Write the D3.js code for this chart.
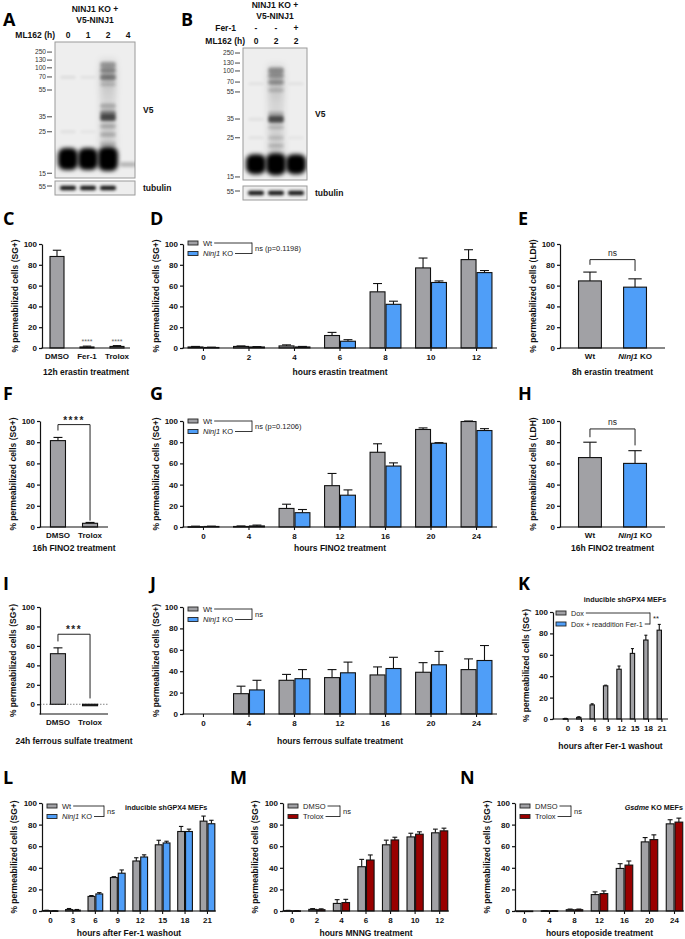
<!DOCTYPE html>
<html><head><meta charset="utf-8">
<script src="https://cdn.jsdelivr.net/npm/d3@7"></script>
<style>
body{margin:0;background:#fff}
svg{display:block}
</style></head><body>
<svg id="fig" width="685" height="939"></svg>
<script>
// ---------------- DATA ----------------
// Blot A
const A_lanes = ["0","1","2","4"];
const A_mw = [250,130,100,70,55,35,25,15];
const A_mwRf = [0.074,0.133,0.19,0.257,0.353,0.55,0.66,0.965];
// [lane index, relative migration, intensity, band height]
const A_bands = [[0,0.86,1,22],[1,0.86,1,22],[2,0.86,1,24],[3,0.9,0.22,5],
 [2,0.17,0.3,6],[2,0.21,0.35,5],[2,0.26,0.4,6],[2,0.31,0.15,4],[2,0.47,0.22,5],
 [2,0.52,0.4,5],[2,0.555,0.65,7],[2,0.62,0.2,5],[2,0.68,0.18,5],[2,0.75,0.15,5],
 [0,0.26,0.07,3],[1,0.26,0.05,3],[0,0.66,0.06,3],[1,0.66,0.04,3]];
const A_tubulin = [1,1,1,0];
// Blot B
const B_fer = ["-","-","+"];
const B_ml162 = ["0","2","2"];
const B_mw = [250,130,100,70,55,35,25,15];
const B_mwRf = [0.038,0.114,0.174,0.258,0.333,0.538,0.68,0.977];
const B_bands = [[0,0.88,1,20],[1,0.88,1,22],[2,0.88,1,20],
 [1,0.17,0.35,6],[1,0.21,0.3,5],[1,0.26,0.3,5],[1,0.32,0.15,4],[1,0.5,0.2,5],
 [1,0.54,0.65,7],[1,0.6,0.15,4],[1,0.68,0.12,4],[1,0.74,0.15,4],
 [0,0.27,0.05,3],[2,0.27,0.05,3],[0,0.54,0.06,3],[0,0.68,0.05,3],[2,0.68,0.04,3]];
const B_tubulin = [1,1,1];

// C
const C_cats = ["DMSO","Fer-1","Trolox"];
const C_vals = [88,1,1.5];
const C_err  = [6,0.8,0.8];
// D
const D_hours = ["0","2","4","6","8","10","12"];
const D_wt = [1,1.5,2,12,54,77,85];
const D_wt_err = [0.5,0.5,1,3,8,9.5,9.5];
const D_ko = [0.5,1,1,6.5,42,63,72.5];
const D_ko_err = [0.3,0.4,0.5,1.5,3,1.5,2];
// E
const E_cats = ["Wt","Ninj1 KO"];
const E_vals = [64.5,58.5];
const E_err = [8.5,8];
// F
const F_cats = ["DMSO","Trolox"];
const F_vals = [81.5,3.5];
const F_err = [3,0.8];
// G
const G_hours = ["0","4","8","12","16","20","24"];
const G_wt = [0.3,0.5,17.5,39,70.5,92,99.5];
const G_wt_err = [0.5,0.5,4,11.5,8,1.5,0.5];
const G_ko = [0.5,1,13.5,30,57.5,79,91];
const G_ko_err = [0.3,0.8,3,5,3,0.6,1.8];
// H
const H_cats = ["Wt","Ninj1 KO"];
const H_vals = [65.5,60];
const H_err = [14.5,12];
// I
const I_cats = ["DMSO","Trolox"];
const I_vals = [52,-1.5];
const I_err = [6,0];
// J
const J_hours = ["0","4","8","12","16","20","24"];
const J_wt = [null,19,31.5,34,36.5,39,41.5];
const J_wt_err = [0,7,5.5,7.5,7.5,9,10];
const J_ko = [null,22.5,33,38.5,42.5,46,50];
const J_ko_err = [0,9,8.5,10,10.5,12.5,14];
// K
const K_hours = ["0","3","6","9","12","15","18","21"];
const K_dox = [0.3,1.5,13.2,31,46.5,61.3,73.8,83];
const K_dox_err = [0.3,0.6,1,0.6,3,4.5,4.5,5.4];
const K_fer = [null,null,null,null,null,null,null,null];
// L
const L_hours = ["0","3","6","9","12","15","18","21"];
const L_wt = [0.4,1.3,13.5,31,46.3,61.3,73.6,83.2];
const L_wt_err = [0.3,1,0.8,0.8,3,4.2,4.7,4.7];
const L_ko = [0.2,0.8,15.8,35,50,63,73.6,80.8];
const L_ko_err = [0.2,0.6,1.2,3,2,1.6,2.2,3.2];
// M
const M_hours = ["0","2","4","6","8","10","12"];
const M_dmso = [0.3,1.5,7,41,61.3,68.6,72.4];
const M_dmso_err = [0.3,0.7,3.5,6.8,4.3,3.4,3.4];
const M_tro = [0.2,1.2,7.8,47.2,65.8,71.1,74.2];
const M_tro_err = [0.2,0.8,3,4.7,2.5,2.2,2.5];
// N
const N_hours = ["0","4","8","12","16","20","24"];
const N_dmso = [0,0.2,1.2,15.2,39.4,64,80.7];
const N_dmso_err = [0,0.2,0.6,2.5,4.4,4,3.8];
const N_tro = [0,0.2,1.2,16.1,42.5,66.1,82.3];
const N_tro_err = [0,0.2,0.6,2.5,3.8,4.4,3.7];

const yTicks = [0,20,40,60,80,100];

// ---------------- STYLE ----------------
const FONT = "Liberation Sans, Arial, sans-serif";
const GRAY = "#a1a1a5", BLUE = "#4f9ef8", RED = "#990000";
const svg = d3.select("#fig");

const defs = svg.append("defs");
[["blur1",1.4],["blur2",1.9],["blur3",3.2]].forEach(([id, s]) => {
  defs.append("filter").attr("id", id).attr("x","-60%").attr("y","-60%").attr("width","220%").attr("height","220%")
    .append("feGaussianBlur").attr("stdDeviation", s);
});
const sg = defs.append("linearGradient").attr("id","smear").attr("x1",0).attr("x2",0).attr("y1",0).attr("y2",1);
sg.append("stop").attr("offset","0%").attr("stop-color","#000").attr("stop-opacity",0.05);
sg.append("stop").attr("offset","15%").attr("stop-color","#000").attr("stop-opacity",0.2);
sg.append("stop").attr("offset","45%").attr("stop-color","#000").attr("stop-opacity",0.1);
sg.append("stop").attr("offset","100%").attr("stop-color","#000").attr("stop-opacity",0.14);

function txt(g, x, y, s, o = {}) {
  return g.append("text").attr("x", x).attr("y", y).text(s)
    .attr("font-family", o.family || FONT)
    .attr("font-size", o.size || 8)
    .attr("font-weight", o.weight || "bold")
    .attr("fill", o.fill || "#111")
    .attr("text-anchor", o.anchor || "start");
}
function panelLabel(x, y, s) {
  txt(svg, x, y, s, {family: "Open Sans, Liberation Sans, sans-serif", size: 18, weight: 700, fill: "#000"});
}

// ---------------- BLOTS ----------------
function drawBlot(cfg) {
  const g = svg.append("g");
  const lane = d3.scaleBand().domain(d3.range(cfg.nLanes)).range(cfg.laneRange);
  const rf = d3.scaleLinear().domain([0,1]).range([cfg.y, cfg.y + cfg.h]);
  g.append("rect").attr("x", cfg.x).attr("y", cfg.y).attr("width", cfg.w).attr("height", cfg.h)
    .attr("fill", "#eeeeee").attr("stroke", "#9a9a9a").attr("stroke-width", 1);
  const clipId = "clip" + cfg.id;
  defs.append("clipPath").attr("id", clipId).append("rect")
    .attr("x", cfg.x).attr("y", cfg.y).attr("width", cfg.w).attr("height", cfg.h);
  const bg = g.append("g").attr("clip-path", `url(#${clipId})`);
  if (cfg.smearLane != null) {
    bg.append("rect").attr("x", lane(cfg.smearLane) + lane.bandwidth()*0.1).attr("width", lane.bandwidth()*0.8)
      .attr("y", rf(0.12)).attr("height", rf(0.84) - rf(0.12))
      .attr("fill", "url(#smear)").attr("filter", "url(#blur3)");
  }
  cfg.bands.forEach(([li, r, inten, hh]) => {
    const big = hh > 10;
    const w = lane.bandwidth() * (big ? 1.0 : 0.78);
    bg.append("rect").attr("x", lane(li) + (lane.bandwidth() - w)/2).attr("width", w)
      .attr("y", rf(r) - hh/2).attr("height", hh).attr("rx", big ? 7 : 2)
      .attr("fill", "#000").attr("opacity", inten)
      .attr("filter", big ? "url(#blur2)" : "url(#blur1)");
  });
  cfg.mw.forEach((m, i) => {
    const yy = rf(cfg.mwRf[i]);
    txt(g, cfg.x - 9, yy + 2.4, String(m), {anchor: "end", weight: "normal", size: 6.6, fill: "#333"});
    g.append("line").attr("x1", cfg.x - 8).attr("x2", cfg.x - 3).attr("y1", yy).attr("y2", yy)
      .attr("stroke", "#333").attr("stroke-width", 0.9);
  });
  g.append("rect").attr("x", cfg.x).attr("y", cfg.ty).attr("width", cfg.w).attr("height", cfg.th)
    .attr("fill", "#eeeeee").attr("stroke", "#9a9a9a").attr("stroke-width", 1);
  cfg.tub.forEach((v, i) => {
    if (!v) return;
    g.append("rect").attr("x", lane(i) + lane.bandwidth()*0.1).attr("width", lane.bandwidth()*0.8)
      .attr("y", cfg.ty + cfg.th/2 - 2.3).attr("height", 4.6).attr("rx", 2)
      .attr("fill", "#000").attr("opacity", 0.9).attr("filter", "url(#blur1)");
  });
  const ty = cfg.ty + cfg.th/2;
  txt(g, cfg.x - 9, ty + 0.5, "55", {anchor: "end", weight: "normal", size: 6.6, fill: "#333"});
  g.append("line").attr("x1", cfg.x - 8).attr("x2", cfg.x - 3).attr("y1", ty - 2).attr("y2", ty - 2)
    .attr("stroke", "#333").attr("stroke-width", 0.9);
  txt(g, cfg.x + cfg.w + 8, rf(0.5) + 3, "V5", {size: 8.5});
  txt(g, cfg.x + cfg.w + 8, ty + 3, "tubulin", {size: 8.5});
  return lane;
}

panelLabel(3, 26, "A");
const laneA = drawBlot({id:"A", x:55, y:42, w:80, h:136, nLanes:4, laneRange:[58,138],
  mw:A_mw, mwRf:A_mwRf, bands:A_bands, smearLane:2, ty:181, th:14, tub:A_tubulin});
txt(svg, 95, 12, "NINJ1 KO +", {anchor:"middle", size:8.5});
txt(svg, 95, 23, "V5-NINJ1", {anchor:"middle", size:8.5});
txt(svg, 55, 38, "ML162 (h)", {anchor:"end", size:8.5});
A_lanes.forEach((l, i) => txt(svg, laneA(i) + laneA.bandwidth()/2, 38, l, {anchor:"middle", size:8.5}));

panelLabel(181, 26, "B");
const laneB = drawBlot({id:"B", x:243, y:48, w:64, h:132, nLanes:3, laneRange:[246,306],
  mw:B_mw, mwRf:B_mwRf, bands:B_bands, smearLane:1, ty:186, th:14, tub:B_tubulin});
txt(svg, 275, 8, "NINJ1 KO +", {anchor:"middle", size:8.5});
txt(svg, 275, 19, "V5-NINJ1", {anchor:"middle", size:8.5});
txt(svg, 236, 31, "Fer-1", {anchor:"end", size:8.5});
txt(svg, 245, 44, "ML162 (h)", {anchor:"end", size:8.5});
B_fer.forEach((l, i) => txt(svg, laneB(i) + laneB.bandwidth()/2, 31, l, {anchor:"middle", size:8.5}));
B_ml162.forEach((l, i) => txt(svg, laneB(i) + laneB.bandwidth()/2, 44, l, {anchor:"middle", size:8.5}));

// ---------------- BAR PANELS ----------------
function drawBars(o) {
  const g = svg.append("g");
  const dom = o.yDomain || [0,100];
  const y = d3.scaleLinear().domain(dom).range([o.yBot, o.yTop]);
  const x = d3.scaleBand().domain(o.cats).range(o.band).paddingInner(o.pi).paddingOuter(o.po);
  const xs = d3.scaleBand().domain(d3.range(o.series.length)).range([0, x.bandwidth()]);
  const bw = xs.bandwidth();
  if (o.zeroLine) {
    g.append("line").attr("x1", o.x0).attr("x2", o.x1).attr("y1", y(0)).attr("y2", y(0))
      .attr("stroke", "#777").attr("stroke-width", 0.9).attr("stroke-dasharray", "1.5,1.5");
  }
  o.series.forEach((s, si) => {
    o.cats.forEach((c, i) => {
      const v = s.vals[i];
      if (v == null) return;
      const bx = x(c) + xs(si);
      const yv = y(v), y0 = y(0);
      const e = s.errs ? s.errs[i] : 0;
      const cx = bx + bw/2;
      if (e > 0 && v >= 0) {
        const ye = y(v + e);
        g.append("line").attr("x1", cx).attr("x2", cx).attr("y1", yv).attr("y2", ye)
          .attr("stroke", "#111").attr("stroke-width", 1.1);
        g.append("line").attr("x1", cx - bw*0.28).attr("x2", cx + bw*0.28).attr("y1", ye).attr("y2", ye)
          .attr("stroke", "#111").attr("stroke-width", 1.1);
      }
      const col = Array.isArray(s.color) ? s.color[i] : s.color;
      g.append("rect").attr("x", bx + 0.5).attr("y", Math.min(yv, y0))
        .attr("width", bw - 1).attr("height", Math.max(Math.abs(y0 - yv), 0.6))
        .attr("fill", v < 0 ? "#111" : col).attr("stroke", "#111").attr("stroke-width", 1.1);
    });
  });
  const ya = g.append("g").attr("transform", `translate(${o.x0},0)`)
    .call(d3.axisLeft(y).tickValues(yTicks).tickSize(3).tickSizeOuter(0).tickPadding(2));
  ya.attr("font-family", FONT).attr("font-size", 8).attr("font-weight", "bold");
  ya.selectAll("path, line").attr("stroke", "#111").attr("stroke-width", 1.2);
  ya.selectAll("text").attr("fill", "#111");
  const xa = g.append("g").attr("transform", `translate(0,${o.yBot})`)
    .call(d3.axisBottom(x).tickSize(o.xTick).tickSizeOuter(0).tickPadding(o.xTick ? 3 : 5));
  xa.select(".domain").remove();
  xa.attr("font-family", FONT).attr("font-size", 8).attr("font-weight", "bold");
  xa.selectAll("line").attr("stroke", "#111").attr("stroke-width", 1.1);
  xa.selectAll("text").attr("fill", "#111").each(function(d) {
    if (d === "Ninj1 KO") {
      const t = d3.select(this); t.text(null);
      t.append("tspan").attr("font-style", "italic").text("Ninj1");
      t.append("tspan").text(" KO");
    }
  });
  g.append("line").attr("x1", o.x0 - 0.6).attr("x2", o.x1).attr("y1", o.yBot).attr("y2", o.yBot)
    .attr("stroke", "#111").attr("stroke-width", 1.2);
  txt(g, (o.x0 + o.x1)/2 + (o.xTitleDx || 0), o.xTitleY, o.xTitle, {anchor: "middle", size: 8.5});
  txt(g, 0, 0, o.yTitle, {anchor: "middle", size: 8.5})
    .attr("transform", `translate(${o.x0 - (o.yTitleOff || 24)},${(o.yTop + o.yBot)/2}) rotate(-90)`);
  return {x, y, xs, g};
}

function legend(p, items, o) {
  const g = p.g;
  const widths = [];
  items.forEach((it, i) => {
    const yy = o.y + i * o.dy;
    g.append("rect").attr("x", o.x).attr("y", yy - 2).attr("width", 10).attr("height", 4)
      .attr("fill", it.color).attr("stroke", "#222").attr("stroke-width", 0.9);
    const t = g.append("text").attr("x", o.x + 15).attr("y", yy + 2.6)
      .attr("font-family", FONT).attr("font-size", o.size || 7.5).attr("fill", "#222");
    if (it.italic) { t.append("tspan").attr("font-style", "italic").text(it.italic); t.append("tspan").text(it.rest); }
    else t.text(it.label);
    widths.push(o.x + 15 + t.node().getComputedTextLength());
  });
  const bx = o.bracketX || (d3.max(widths) + 4);
  items.forEach((it, i) => {
    const yy = o.y + i * o.dy;
    g.append("line").attr("x1", widths[i] + 2).attr("x2", bx).attr("y1", yy).attr("y2", yy)
      .attr("stroke", "#222").attr("stroke-width", 0.9);
  });
  g.append("line").attr("x1", bx).attr("x2", bx).attr("y1", o.y - 0.45).attr("y2", o.y + o.dy*(items.length-1) + 0.45)
    .attr("stroke", "#222").attr("stroke-width", 0.9);
  g.append("text").attr("x", bx + 3).attr("y", o.y + o.dy*(items.length-1)/2 + 2.6)
    .attr("font-family", FONT).attr("font-size", 7.5).attr("fill", "#222").text(o.sig);
  return bx;
}

function bracket(p, c1, c2, top, l1, l2, label, o = {}) {
  const {x, y, g} = p;
  const x1 = x(c1) + x.bandwidth()/2, x2 = x(c2) + x.bandwidth()/2;
  g.append("path").attr("d", `M${x1},${y(l1)}V${y(top)}H${x2}V${y(l2)}`)
    .attr("fill", "none").attr("stroke", "#222").attr("stroke-width", 1);
  g.append("text").attr("x", (x1 + x2)/2).attr("y", y(top) - (o.gap || 4))
    .attr("text-anchor", "middle").attr("font-family", FONT).attr("font-size", o.size || 8)
    .attr("font-weight", o.weight || "normal").attr("letter-spacing", o.ls || 0).attr("fill", "#222").text(label);
}

const wtKo = [{label:"Wt", color:GRAY}, {italic:"Ninj1", rest:" KO", color:BLUE}];

// Row 2
panelLabel(3, 225, "C");
const pC = drawBars({x0:42, x1:130, yTop:244, yBot:348, cats:C_cats, band:[42,132], pi:0.5, po:0.25,
  series:[{vals:C_vals, errs:C_err, color:GRAY}], xTick:0,
  xTitle:"12h erastin treatment", xTitleY:375, yTitle:"% permeabilized cells (SG+)"});
["Fer-1","Trolox"].forEach(c => {
  pC.g.append("text").attr("x", pC.x(c) + pC.x.bandwidth()/2).attr("y", pC.y(3.5))
    .attr("text-anchor","middle").attr("font-family",FONT).attr("font-size",7).attr("fill","#666").text("****");
});

panelLabel(150, 225, "D");
const pD = drawBars({x0:183, x1:497, yTop:244, yBot:348, cats:D_hours, band:[183,497], pi:0.3, po:0.1,
  series:[{vals:D_wt, errs:D_wt_err, color:GRAY},{vals:D_ko, errs:D_ko_err, color:BLUE}], xTick:3,
  xTitle:"hours erastin treatment", xTitleY:375, yTitle:"% permeabilized cells (SG+)"});
legend(pD, wtKo, {x:188, y:243, dy:10.5, sig:"ns (p=0.1198)", bracketX:252});

panelLabel(518, 225, "E");
const pE = drawBars({x0:560, x1:665, yTop:244, yBot:348, cats:E_cats, band:[560,665], pi:0.47, po:0.4,
  series:[{vals:E_vals, errs:E_err, color:[GRAY,BLUE]}], xTick:0,
  xTitle:"8h erastin treatment", xTitleY:375, yTitle:"% permeabilized cells (LDH)"});
bracket(pE, "Wt", "Ninj1 KO", 85, 80, 74, "ns", {size:8.5});

// Row 3
panelLabel(3, 400, "F");
const pF = drawBars({x0:40, x1:108, yTop:421, yBot:527, cats:F_cats, band:[40,108], pi:0.5, po:0.31,
  series:[{vals:F_vals, errs:F_err, color:GRAY}], xTick:0,
  xTitle:"16h FINO2 treatment", xTitleY:551, yTitle:"% permeabilized cells (SG+)"});
bracket(pF, "DMSO", "Trolox", 96.6, 91, 6, "****", {size:10, weight:"bold", ls:1.5, gap:1});

panelLabel(150, 400, "G");
const pG = drawBars({x0:183, x1:497, yTop:421, yBot:527, cats:G_hours, band:[183,497], pi:0.3, po:0.1,
  series:[{vals:G_wt, errs:G_wt_err, color:GRAY},{vals:G_ko, errs:G_ko_err, color:BLUE}], xTick:3,
  xTitle:"hours FINO2 treatment", xTitleY:551, yTitle:"% permeabilized cells (SG+)"});
legend(pG, wtKo, {x:188, y:421, dy:10.5, sig:"ns (p=0.1206)", bracketX:252});

panelLabel(518, 400, "H");
const pH = drawBars({x0:560, x1:665, yTop:421, yBot:527, cats:H_cats, band:[560,665], pi:0.47, po:0.4,
  series:[{vals:H_vals, errs:H_err, color:[GRAY,BLUE]}], xTick:0,
  xTitle:"16h FINO2 treatment", xTitleY:551, yTitle:"% permeabilized cells (LDH)"});
bracket(pH, "Wt", "Ninj1 KO", 92.5, 84.7, 77, "ns", {size:8.5});

// Row 4
panelLabel(3, 590, "I");
const pI = drawBars({x0:40, x1:108, yTop:607, yBot:714, yDomain:[-10,100], cats:I_cats, band:[40,108], pi:0.5, po:0.31,
  series:[{vals:I_vals, errs:I_err, color:GRAY}], xTick:0, zeroLine:true,
  xTitle:"24h ferrous sulfate treatment", xTitleY:744, yTitle:"% permeabilized cells (SG+)"});
bracket(pI, "DMSO", "Trolox", 72, 64.6, 6, "***", {size:10, weight:"bold", ls:1.5, gap:1});

panelLabel(150, 590, "J");
const pJ = drawBars({x0:183, x1:497, yTop:607, yBot:714, cats:J_hours, band:[183,497], pi:0.3, po:0.1,
  series:[{vals:J_wt, errs:J_wt_err, color:GRAY},{vals:J_ko, errs:J_ko_err, color:BLUE}], xTick:3,
  xTitle:"hours ferrous sulfate treatment", xTitleY:744, yTitle:"% permeabilized cells (SG+)"});
legend(pJ, wtKo, {x:188, y:609, dy:10.5, sig:"ns", bracketX:252});

panelLabel(518, 590, "K");
const pK = drawBars({x0:553, x1:668, yTop:612, yBot:719, cats:K_hours, band:[560,670], pi:0.2, po:0.2,
  series:[{vals:K_dox, errs:K_dox_err, color:GRAY},{vals:K_fer, errs:null, color:BLUE}], xTick:3,
  xTitle:"hours after Fer-1 washout", xTitleY:749, yTitle:"% permeabilized cells (SG+)"});
legend(pK, [{label:"Dox", color:GRAY},{label:"Dox + readdition Fer-1", color:BLUE}], {x:556, y:613, dy:11, sig:"**", bracketX:650, size:7.2});
txt(pK.g, 625, 602, "inducible shGPX4 MEFs", {anchor:"middle", size:7.2});

// Row 5
panelLabel(3, 784, "L");
const pL = drawBars({x0:42, x1:216, yTop:803, yBot:911, cats:L_hours, band:[42,216], pi:0.3, po:0.03,
  series:[{vals:L_wt, errs:L_wt_err, color:GRAY},{vals:L_ko, errs:L_ko_err, color:BLUE}], xTick:3,
  xTitle:"hours after Fer-1 washout", xTitleY:936, yTitle:"% permeabilized cells (SG+)", yTitleOff:25});
legend(pL, wtKo, {x:47, y:806, dy:10.5, sig:"ns", bracketX:104});
txt(pL.g, 125, 810, "inducible shGPX4 MEFs", {size:7.2});

panelLabel(230, 784, "M");
const pM = drawBars({x0:283, x1:449, yTop:803, yBot:911, cats:M_hours, band:[283,449], pi:0.3, po:0.03,
  series:[{vals:M_dmso, errs:M_dmso_err, color:GRAY},{vals:M_tro, errs:M_tro_err, color:RED}], xTick:3,
  xTitle:"hours MNNG treatment", xTitleY:936, yTitle:"% permeabilized cells (SG+)", yTitleOff:25});
legend(pM, [{label:"DMSO", color:GRAY},{label:"Trolox", color:RED}], {x:288, y:806, dy:10.5, sig:"ns", bracketX:340});

panelLabel(460, 784, "N");
const pN = drawBars({x0:515, x1:684, yTop:803, yBot:911, cats:N_hours, band:[515,684], pi:0.3, po:0.03,
  series:[{vals:N_dmso, errs:N_dmso_err, color:GRAY},{vals:N_tro, errs:N_tro_err, color:RED}], xTick:3,
  xTitle:"hours etoposide treatment", xTitleY:936, yTitle:"% permeabilized cells (SG+)", yTitleOff:25});
legend(pN, [{label:"DMSO", color:GRAY},{label:"Trolox", color:RED}], {x:520, y:806, dy:10.5, sig:"ns", bracketX:571});
const nt = txt(pN.g, 683, 810, "", {anchor:"end", size:7.2});
nt.append("tspan").attr("font-style","italic").text("Gsdme");
nt.append("tspan").text(" KO MEFs");
</script>
</body></html>
